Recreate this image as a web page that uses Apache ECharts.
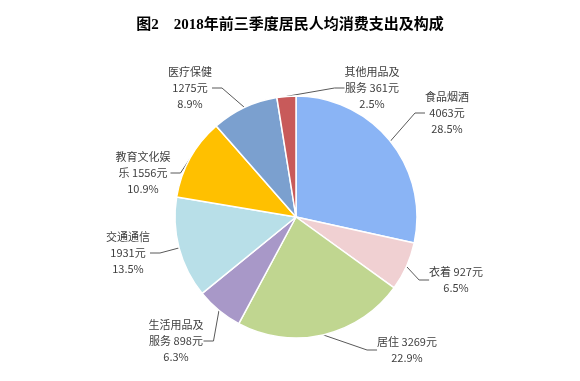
<!DOCTYPE html>
<html><head><meta charset="utf-8">
<script src="https://cdn.jsdelivr.net/npm/echarts@6/dist/echarts.min.js"></script>
<style>html,body{margin:0;padding:0;background:#fff}#c{width:580px;height:381px}</style>
</head><body><div id="c"></div>
<script>
const categories = ['食品烟酒','衣着','居住','生活用品及服务','交通通信','教育文化娱乐','医疗保健','其他用品及服务'];
const values = [4063, 927, 3269, 898, 1931, 1556, 1275, 361];
const percents = ['28.5%','6.5%','22.9%','6.3%','13.5%','10.9%','8.9%','2.5%'];
const labelTexts = ['食品烟酒\n4063元\n28.5%','衣着 927元\n6.5%','居住 3269元\n22.9%','生活用品及\n服务 898元\n6.3%','交通通信\n1931元\n13.5%','教育文化娱\n乐 1556元\n10.9%','医疗保健\n1275元\n8.9%','其他用品及\n服务 361元\n2.5%'];
const colors = ['#8AB4F5','#F0D0D2','#C0D690','#A898C8','#B8DFE8','#FFC000','#7BA0CF','#C85A5A'];
const labelPos = [[447,113],[456,280],[407,350],[176,341],[128,253],[143,173],[190,88],[372,88]];

const chart = echarts.init(document.getElementById('c'));
chart.setOption({
  title: {text: '图2    2018年前三季度居民人均消费支出及构成', left: 'center', top: 13,
    textStyle: {fontSize: 15, fontWeight: 'bold', color: '#000', fontFamily: '"Liberation Serif","Noto Sans CJK SC",serif'}},
  series: [{
    type: 'pie', center: [296, 217], radius: 121, startAngle: 90, clockwise: true,
    data: categories.map((c,i)=>({name:c, value:values[i], itemStyle:{color:colors[i]}})),
    itemStyle: {borderColor:'#fff', borderWidth:1.5},
    label: {formatter: p => labelTexts[p.dataIndex], fontSize: 11, lineHeight: 16, color: '#404040',
      fontFamily: '"Noto Sans CJK SC","Liberation Sans",sans-serif', align: 'center'},
    labelLine: {show: true, lineStyle: {color: '#595959', width: 1}, length: 10, length2: 10},
    labelLayout: p => ({x: labelPos[p.dataIndex][0], y: labelPos[p.dataIndex][1], align: 'center', verticalAlign: 'middle'})
  }]
});
</script></body></html>
